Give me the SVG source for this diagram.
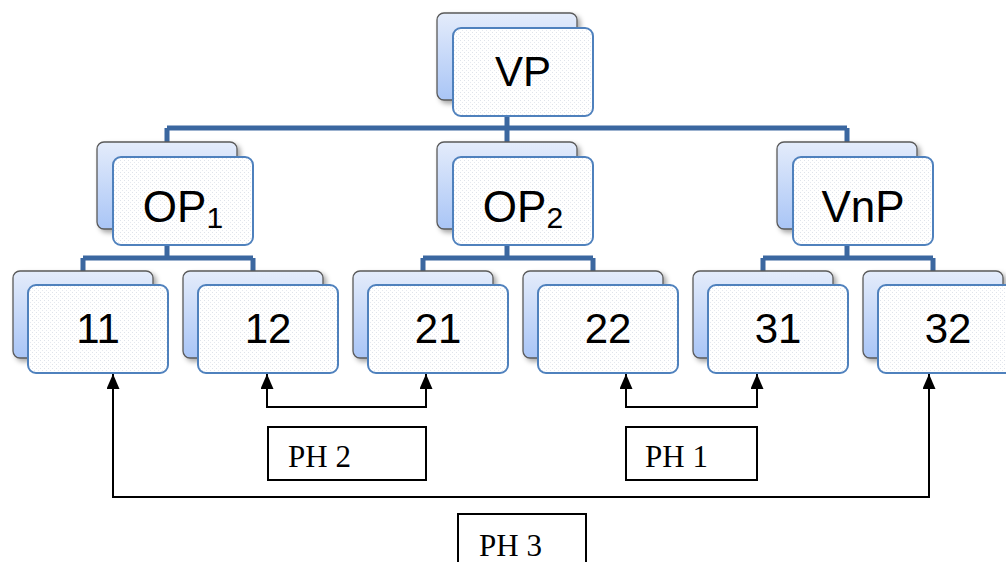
<svg xmlns="http://www.w3.org/2000/svg" width="1006" height="562" viewBox="0 0 1006 562">
<defs>
<linearGradient id="bg" x1="0" y1="0" x2="0" y2="1">
<stop offset="0" stop-color="#e4ecfb"/>
<stop offset="1" stop-color="#a9c5f6"/>
</linearGradient>
<pattern id="dots" width="4" height="4" patternUnits="userSpaceOnUse">
<rect width="4" height="4" fill="#ffffff"/>
<rect x="0" y="0" width="1" height="1" fill="#dfe3ea"/>
<rect x="2" y="2" width="1" height="1" fill="#e6e9ef"/>
</pattern>
<filter id="sh" x="-10%" y="-10%" width="130%" height="130%">
<feDropShadow dx="3" dy="3" stdDeviation="2.5" flood-color="#000" flood-opacity="0.35"/>
</filter>
<marker id="ah" viewBox="0 0 15 13" refX="15" refY="6.5" markerWidth="15" markerHeight="13" markerUnits="userSpaceOnUse" orient="auto-start-reverse">
<path d="M0,0 L15,6.5 L0,13 Z" fill="#000"/>
</marker>
</defs>
<style>
.back{fill:url(#bg);stroke:#5a5a5a;stroke-width:1.3;filter:url(#sh)}
.front{fill:url(#dots);stroke:#4f81bd;stroke-width:2}
.lbl{font-family:"Liberation Sans",Arial,sans-serif;font-size:42px;fill:#000;text-anchor:middle}
.big{font-size:44px}
.sub{font-size:30px}
.tree{stroke:#3b67a0;stroke-width:5;fill:none}
.arr{stroke:#000;stroke-width:2;fill:none}
.box{fill:#fff;stroke:#000;stroke-width:2}
.ph{font-family:"Liberation Serif","Times New Roman",serif;font-size:31px;fill:#000}
</style>

<g id="connectors">
<path class="tree" d="M507,116 V128 M167,128 H847 M167,128 V142 M507,128 V142 M847,128 V142"/>
<path class="tree" d="M167,244 V258 M83,258 H253 M83,258 V271 M253,258 V271"/>
<path class="tree" d="M507,244 V258 M423,258 H593 M423,258 V271 M593,258 V271"/>
<path class="tree" d="M847,244 V258 M763,258 H933 M763,258 V271 M933,258 V271"/>
<path class="arr" marker-start="url(#ah)" marker-end="url(#ah)" d="M267,374 V407 H426 V374"/>
<path class="arr" marker-start="url(#ah)" marker-end="url(#ah)" d="M626,374 V407 H757 V374"/>
<path class="arr" marker-start="url(#ah)" marker-end="url(#ah)" d="M113,374 V497 H929 V374"/>
</g>

<g id="node-VP">
<rect class="back" x="437" y="13" width="140" height="87" rx="7"/>
<rect class="front" x="453" y="28" width="140" height="88" rx="8"/>
<text class="lbl" x="523" y="86">VP</text>
</g>
<g id="node-OP1">
<rect class="back" x="97" y="142" width="140" height="87" rx="7"/>
<rect class="front" x="113" y="157" width="140" height="88" rx="8"/>
<text class="lbl big" x="183" y="222">OP<tspan class="sub" dy="6">1</tspan></text>
</g>
<g id="node-OP2">
<rect class="back" x="437" y="142" width="140" height="87" rx="7"/>
<rect class="front" x="453" y="157" width="140" height="88" rx="8"/>
<text class="lbl big" x="523" y="222">OP<tspan class="sub" dy="6">2</tspan></text>
</g>
<g id="node-VnP">
<rect class="back" x="777" y="142" width="140" height="87" rx="7"/>
<rect class="front" x="793" y="157" width="140" height="88" rx="8"/>
<text class="lbl big" x="863" y="222">VnP</text>
</g>
<g id="node-11">
<rect class="back" x="13" y="271" width="140" height="87" rx="7"/>
<rect class="front" x="28" y="285" width="140" height="88" rx="8"/>
<text class="lbl" x="98" y="343">11</text>
</g>
<g id="node-12">
<rect class="back" x="183" y="271" width="140" height="87" rx="7"/>
<rect class="front" x="198" y="285" width="140" height="88" rx="8"/>
<text class="lbl" x="268" y="343">12</text>
</g>
<g id="node-21">
<rect class="back" x="353" y="271" width="140" height="87" rx="7"/>
<rect class="front" x="368" y="285" width="140" height="88" rx="8"/>
<text class="lbl" x="438" y="343">21</text>
</g>
<g id="node-22">
<rect class="back" x="523" y="271" width="140" height="87" rx="7"/>
<rect class="front" x="538" y="285" width="140" height="88" rx="8"/>
<text class="lbl" x="608" y="343">22</text>
</g>
<g id="node-31">
<rect class="back" x="693" y="271" width="140" height="87" rx="7"/>
<rect class="front" x="708" y="285" width="140" height="88" rx="8"/>
<text class="lbl" x="778" y="343">31</text>
</g>
<g id="node-32">
<rect class="back" x="863" y="271" width="140" height="87" rx="7"/>
<rect class="front" x="878" y="285" width="140" height="88" rx="8"/>
<text class="lbl" x="948" y="343">32</text>
</g>

<g id="node-PH2">
<rect class="box" x="268" y="427" width="158" height="53"/>
<text class="ph" x="288" y="467">PH 2</text>
</g>
<g id="node-PH1">
<rect class="box" x="626" y="427" width="131" height="53"/>
<text class="ph" x="645" y="467">PH 1</text>
</g>
<g id="node-PH3">
<rect class="box" x="458" y="514" width="128" height="60"/>
<text class="ph" x="479" y="556">PH 3</text>
</g>
</svg>
